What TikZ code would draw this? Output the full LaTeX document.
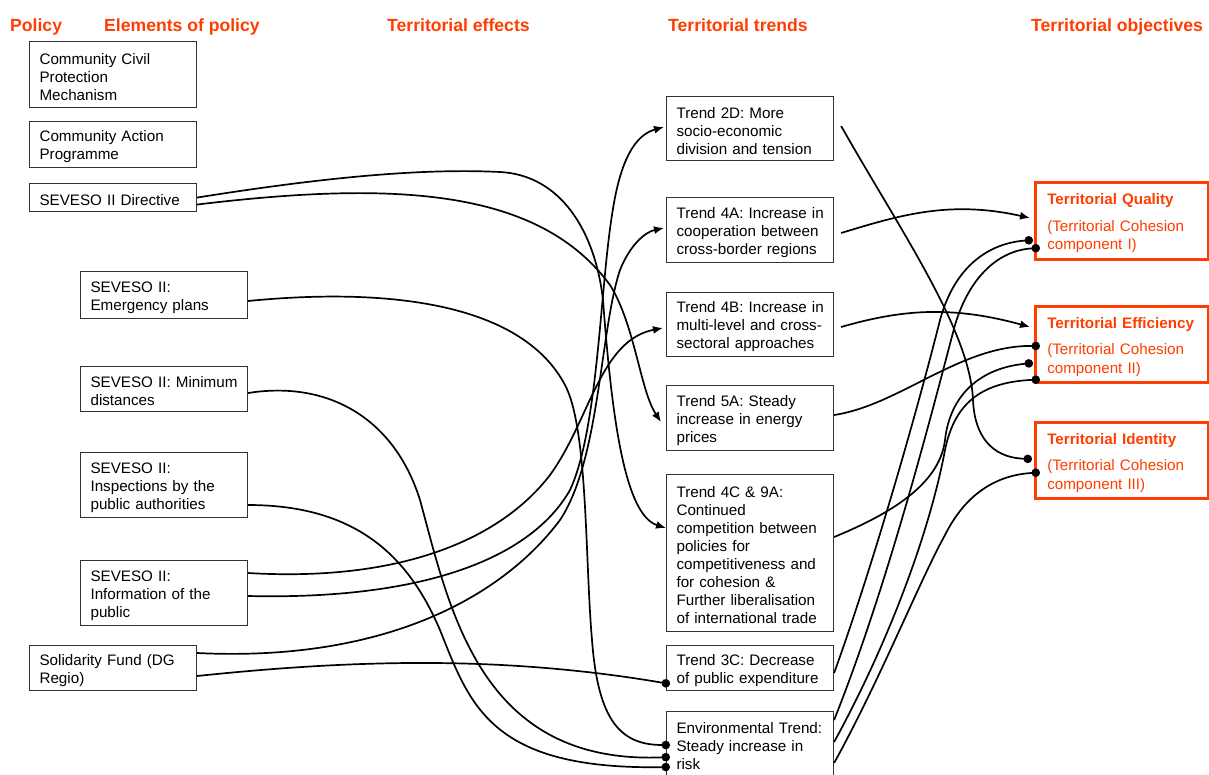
\documentclass[tikz,border=0pt]{standalone}
\usepackage{fontspec}
\setmainfont{Liberation Sans}
\usetikzlibrary{arrows.meta}
\definecolor{objred}{RGB}{255,61,0}

\begin{document}
\begin{tikzpicture}[x=1pt,y=-1pt,
  elbox/.style={draw=black!80, line width=1.1pt, anchor=north west,
    text width=147pt, inner xsep=10pt, inner ysep=0pt, align=left,
    text height=16pt, font={\fontsize{15.2}{18}\selectfont}},
  objbox/.style={draw=objred, line width=2.5pt, anchor=north west,
    text width=149pt, inner xsep=12pt, inner ysep=0pt, align=left,
    text height=16pt, text=objred, font={\fontsize{15.2}{18.5}\selectfont}},
  head/.style={anchor=base west, inner sep=0pt, text=objred,
    font={\fontsize{17.6}{20}\selectfont\bfseries}},
  wire/.style={line width=1.7pt, black},
  arrlink/.style={wire, -{Latex[length=10pt,width=8pt]}},
  dotlink/.style={wire, -{Circle[length=8.5pt]}},
]
\clip (0,0) rectangle (1209,774);

% column headings
\node[head] (hpol)  at (10,31)   {Policy};
\node[head] (helem) at (104,31)  {Elements of policy};
\node[head] (heff)  at (387,31)  {Territorial effects};
\node[head] (htr)   at (668,31)  {Territorial trends};
\node[head] (hobj)  at (1031,31) {Territorial objectives};

% policy elements
\node[elbox, minimum height=66pt] (ccpm)  at (29,41)  {Community Civil\\Protection\\Mechanism};
\node[elbox, minimum height=46pt] (cap)   at (29,121) {Community Action\\Programme};
\node[elbox, minimum height=28pt] (dir)   at (29,183) {SEVESO II Directive};
\node[elbox, minimum height=47pt] (emerg) at (80,271) {SEVESO II:\\Emergency plans};
\node[elbox, minimum height=45pt] (mind)  at (80,366) {SEVESO II: Minimum\\distances};
\node[elbox, minimum height=65pt] (insp)  at (80,452) {SEVESO II:\\Inspections by the\\public authorities};
\node[elbox, minimum height=65pt] (info)  at (80,560) {SEVESO II:\\Information of the\\public};
\node[elbox, minimum height=45pt] (sol)   at (29,645) {Solidarity Fund (DG\\Regio)};

% territorial trends
\node[elbox, minimum height=64pt]  (t2d)  at (666,96)  {Trend 2D: More\\socio-economic\\division and tension};
\node[elbox, minimum height=65pt]  (t4a)  at (666,197) {\mbox{Trend 4A: Increase in}\\cooperation between\\cross-border regions};
\node[elbox, minimum height=64pt]  (t4b)  at (666,292) {\mbox{Trend 4B: Increase in}\\multi-level and cross-\\sectoral approaches};
\node[elbox, minimum height=65pt]  (t5a)  at (666,385) {Trend 5A: Steady\\increase in energy\\prices};
\node[elbox, minimum height=157pt] (t4c)  at (666,474) {Trend 4C \& 9A:\\Continued\\competition between\\policies for\\competitiveness and\\for cohesion \&\\Further liberalisation\\of international trade};
\node[elbox, minimum height=45pt]  (t3c)  at (666,645) {Trend 3C: Decrease\\of public expenditure};
\node[elbox, minimum height=65pt]  (tenv) at (666,711) {\mbox{Environmental Trend:}\\Steady increase in\\risk};

% territorial objectives
\node[objbox, minimum height=77pt] (oq) at (1034,181) {\textbf{Territorial Quality}\\[8pt](Territorial Cohesion\\component I)};
\node[objbox, minimum height=76pt] (oe) at (1034,305) {\textbf{\mbox{Territorial Efficiency}}\\[8pt](Territorial Cohesion\\component II)};
\node[objbox, minimum height=76pt] (oi) at (1034,421) {\textbf{Territorial Identity}\\[8pt](Territorial Cohesion\\component III)};

% policy elements -> trends
\draw[arrlink] (dir.east) .. controls (320,178) and (420,168) .. (500,172)
  .. controls (560,175) and (595,230) .. (603,300)
  .. controls (612,420) and (625,515) .. ([yshift=-54pt]t4c.north west);
\draw[arrlink] ([yshift=-7pt]dir.east) .. controls (400,180) and (540,190) .. (610,285)
  .. controls (635,325) and (640,390) .. ([xshift=-5pt,yshift=-37pt]t5a.north west);
\draw[dotlink] ([yshift=-30pt]emerg.north east) .. controls (380,288) and (520,300) .. (565,385)
  .. controls (588,428) and (585,560) .. (592,640)
  .. controls (598,720) and (620,745) .. ([xshift=4pt,yshift=-34pt]tenv.north west);
\draw[dotlink] ([yshift=-27pt]mind.north east) .. controls (330,380) and (395,420) .. (420,500)
  .. controls (450,610) and (480,765) .. ([xshift=4pt,yshift=-46pt]tenv.north west);
\draw[dotlink] ([yshift=-53pt]insp.north east) .. controls (360,505) and (410,560) .. (440,630)
  .. controls (470,705) and (490,770) .. ([xshift=4pt,yshift=-56pt]tenv.north west);
\draw[arrlink] ([yshift=-13pt]info.north east) .. controls (400,582) and (500,540) .. (550,475)
  .. controls (590,420) and (600,340) .. ([xshift=-3pt,yshift=-36pt]t4b.north west);
\draw[arrlink] ([yshift=-36pt]info.north east) .. controls (420,600) and (530,560) .. (570,490)
  .. controls (598,430) and (600,290) .. (612,215)
  .. controls (620,160) and (635,135) .. ([xshift=-2pt,yshift=-31pt]t2d.north west);
\draw[arrlink] ([yshift=-8pt]sol.north east) .. controls (380,662) and (500,600) .. (560,520)
  .. controls (600,460) and (600,330) .. (620,270)
  .. controls (630,245) and (645,232) .. ([xshift=-2pt,yshift=-31pt]t4a.north west);
\draw[dotlink] ([yshift=-31pt]sol.north east) .. controls (350,660) and (500,655) .. ([xshift=4pt,yshift=-39pt]t3c.north west);

% trends -> objectives
\draw[dotlink] ([xshift=7pt,yshift=-30pt]t2d.north east) .. controls (900,230) and (970,330) .. (973,400)
  .. controls (975,445) and (1000,458) .. ([xshift=-2pt,yshift=-38pt]oi.north west);
\draw[arrlink] ([xshift=7pt,yshift=-36pt]t4a.north east) .. controls (900,215) and (950,200) .. ([xshift=-4pt,yshift=-37pt]oq.north west);
\draw[arrlink] ([xshift=7pt,yshift=-35pt]t4b.north east) .. controls (900,310) and (950,305) .. ([xshift=-4pt,yshift=-22pt]oe.north west);
\draw[dotlink] ([yshift=-30pt]t5a.north east) .. controls (900,405) and (960,345) .. ([xshift=6pt,yshift=-41pt]oe.north west);
\draw[dotlink] ([yshift=-63pt]t4c.north east) .. controls (900,510) and (940,480) .. (945,440)
  .. controls (950,395) and (980,368) .. ([xshift=-1pt,yshift=-58pt]oe.north west);
\draw[dotlink] ([yshift=-28pt]t3c.north east) .. controls (875,560) and (920,400) .. (940,320)
  .. controls (955,265) and (990,243) .. ([xshift=-1pt,yshift=-59pt]oq.north west);
\draw[dotlink] ([yshift=-9pt]tenv.north east) .. controls (890,580) and (935,400) .. (955,325)
  .. controls (970,275) and (1000,250) .. ([xshift=6pt,yshift=-67pt]oq.north west);
\draw[dotlink] ([yshift=-31pt]tenv.north east) .. controls (890,640) and (930,530) .. (945,450)
  .. controls (955,400) and (985,382) .. ([xshift=6pt,yshift=-74.5pt]oe.north west);
\draw[dotlink] ([yshift=-52pt]tenv.north east) .. controls (880,680) and (920,580) .. (945,535)
  .. controls (965,495) and (995,475) .. ([xshift=6pt,yshift=-51.5pt]oi.north west);
\end{tikzpicture}
\end{document}
